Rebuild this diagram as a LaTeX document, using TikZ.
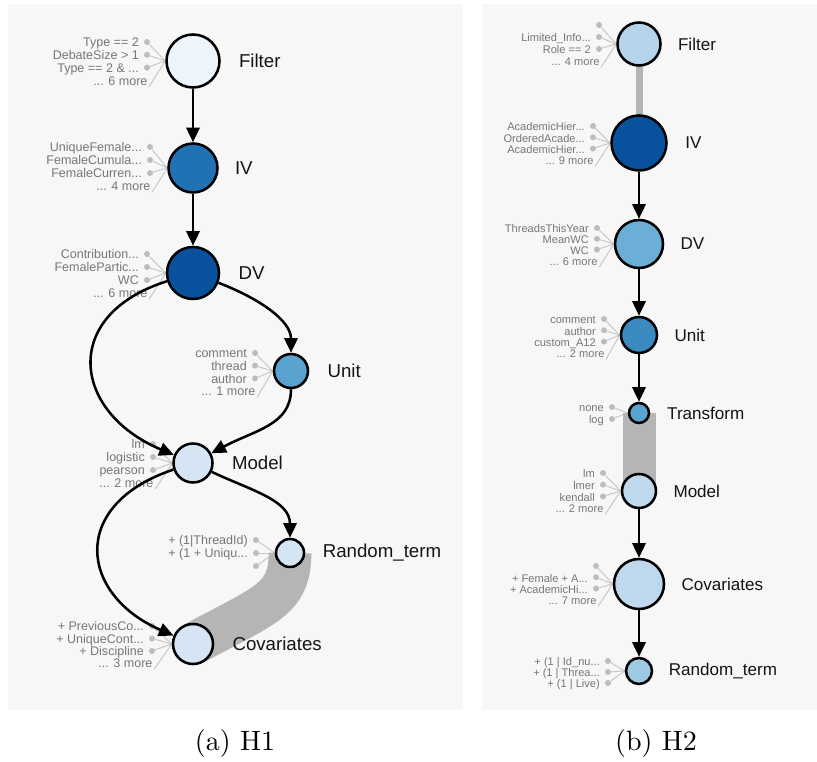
\documentclass[tikz,border=0pt]{standalone}
\usepackage{fontspec}
\newfontfamily\hv{Liberation Sans}
\newfontfamily\capfont[Extension=.otf]{lmroman10-regular}
\usetikzlibrary{arrows.meta,calc}
\pgfdeclarelayer{back}
\pgfdeclarelayer{bg}
\pgfsetlayers{back,bg,main}
\definecolor{panel}{HTML}{F7F7F7}
\definecolor{smgray}{HTML}{777777}
\definecolor{dotgray}{HTML}{BDBDBD}
\definecolor{linegray}{HTML}{C8C8C8}
\definecolor{bandgray}{HTML}{B5B5B5}
\definecolor{lFilter}{HTML}{EDF4FC}
\definecolor{lIV}{HTML}{2171B5}
\definecolor{lDV}{HTML}{08519C}
\definecolor{lUnit}{HTML}{5AA2CF}
\definecolor{lLight}{HTML}{D5E5F4}
\definecolor{rFilter}{HTML}{B5D4E9}
\definecolor{rIV}{HTML}{08519C}
\definecolor{rDV}{HTML}{6BAED6}
\definecolor{rUnit}{HTML}{3B8BC2}
\definecolor{rTr}{HTML}{5BA3D0}
\definecolor{rModel}{HTML}{C1D9ED}
\definecolor{rCov}{HTML}{BFD8ED}
\definecolor{rRT}{HTML}{9ECAE1}
\newcommand\ddd{...}
\tikzset{
  vn/.style={circle, draw=black, line width=1.9pt, inner sep=0pt},
  mlabL/.style={font=\hv\fontsize{14}{16}\selectfont, anchor=west, inner sep=1pt, text=black!92},
  mlabR/.style={font=\hv\fontsize{12.8}{15}\selectfont, anchor=west, inner sep=1pt, text=black!92},
  smL/.style={font=\hv\fontsize{9.4}{11}\selectfont, text=smgray, inner sep=1pt, anchor=east, text height=0.72em, text depth=0pt},
  smR/.style={font=\hv\fontsize{8.3}{10}\selectfont, text=smgray, inner sep=1pt, anchor=east, text height=0.72em, text depth=0pt},
  fdot/.style={circle, fill=dotgray, inner sep=0pt, minimum size=4.5pt},
  fline/.style={draw=linegray, line width=0.75pt},
  arr/.style={draw=black, line width=1.9pt, -{Triangle[length=11pt,width=10pt]}},
  band/.style={draw=bandgray, line cap=butt},
  captxt/.style={font=\capfont\fontsize{21}{25}\selectfont, inner sep=0pt},
}
% #1 parent, #2 dot x, #3 first y, #4 step, #5 items, #6 style
\newcommand\fan[6]{%
  \foreach \t [count=\i] in {#5} {
    \pgfmathsetmacro\yy{#3+(\i-1)*(#4)}
    \node[fdot] (#1d\i) at (#2,\yy) {};
    \node[#6] (#1t\i) at ([xshift=-2.5pt]#1d\i.west) {\t};
    \begin{pgfonlayer}{bg}
      \draw[fline] (#1.west) -- (#1d\i);
    \end{pgfonlayer}
  }%
}
% #1 parent, #2 x, #3 y, #4 text, #5 style
\newcommand\fanmore[5]{%
  \node[#5] (#1m) at (#2,#3) {#4};
  \begin{pgfonlayer}{bg}
    \draw[fline] (#1.west) -- (#1m.south east);
  \end{pgfonlayer}
}
\begin{document}
\begin{tikzpicture}[x=0.75pt,y=-0.75pt]
\useasboundingbox (0,0) rectangle (817,762);
\begin{pgfonlayer}{back}
  \fill[panel] (8,4) rectangle (463,710);
  \fill[panel] (482,4) rectangle (817,710);
\end{pgfonlayer}

% ---------- left panel ----------
\node[vn, fill=lFilter, minimum size=39.75pt] (LFilter) at (193,61) {};
\node[vn, fill=lIV, minimum size=36.75pt] (LIV) at (193,168) {};
\node[vn, fill=lDV, minimum size=39pt] (LDV) at (193,273) {};
\node[vn, fill=lUnit, minimum size=25.5pt] (LUnit) at (291,371) {};
\node[vn, fill=lLight, minimum size=29.25pt] (LModel) at (193,463) {};
\node[vn, fill=lLight, minimum size=21pt] (LRT) at (290,553) {};
\node[vn, fill=lLight, minimum size=30pt] (LCov) at (193,644) {};

\node[mlabL] (LFilterL) at ([xshift=12.5pt]LFilter.east) {Filter};
\node[mlabL] (LIVL) at ([xshift=11pt]LIV.east) {IV};
\node[mlabL] (LDVL) at ([xshift=12.5pt]LDV.east) {DV};
\node[mlabL] (LUnitL) at ([xshift=12.5pt]LUnit.east) {Unit};
\node[mlabL] (LModelL) at ([xshift=12.5pt]LModel.east) {Model};
\node[mlabL] (LRTL) at ([xshift=12pt]LRT.east) {Random\_term};
\node[mlabL] (LCovL) at ([xshift=12.5pt]LCov.east) {Covariates};

\fan{LFilter}{147}{42}{12.8}{{Type == 2},{DebateSize > 1},{Type == 2 \& \ddd}}{smL}
\fanmore{LFilter}{149}{80.4}{\ddd{} 6 more}{smL}
\fan{LIV}{150}{147}{13}{{UniqueFemale\ddd},{FemaleCumula\ddd},{FemaleCurren\ddd}}{smL}
\fanmore{LIV}{152}{186}{\ddd{} 4 more}{smL}
\fan{LDV}{147}{254}{13}{{Contribution\ddd},{FemalePartic\ddd},{WC}}{smL}
\fanmore{LDV}{149}{293}{\ddd{} 6 more}{smL}
\fan{LUnit}{255}{353}{12.7}{{comment},{thread},{author}}{smL}
\fanmore{LUnit}{257}{391}{\ddd{} 1 more}{smL}
\fan{LModel}{153}{444}{13}{{lm},{logistic},{pearson}}{smL}
\fanmore{LModel}{155}{483}{\ddd{} 2 more}{smL}
\fan{LRT}{256}{540}{13}{{+ (1|ThreadId)},{+ (1 + Uniqu\ddd},{}}{smL}
\fan{LCov}{152}{626}{12.5}{{+ PreviousCo\ddd},{+ UniqueCont\ddd},{+ Discipline}}{smL}
\fanmore{LCov}{154}{663}{\ddd{} 3 more}{smL}

\begin{pgfonlayer}{bg}
  \draw[band, line width=32pt] (LRT.center) .. controls (290,600) and (265,605) .. (LCov.center);
\end{pgfonlayer}

\draw[arr] (LFilter) -- (LIV);
\draw[arr] (LIV) -- (LDV);
\draw[arr] (LDV) .. controls (60,315) and (72,412) .. (LModel);
\draw[arr] (LDV) .. controls (258,298) and (291,320) .. (LUnit);
\draw[arr] (LUnit) .. controls (291,425) and (255,430) .. (LModel);
\draw[arr] (LModel) .. controls (250,490) and (290,500) .. (LRT);
\draw[arr] (LModel) .. controls (68,505) and (80,595) .. (LCov);

% ---------- right panel ----------
\node[vn, fill=rFilter, minimum size=32.25pt] (RFilter) at (639,44) {};
\node[vn, fill=rIV, minimum size=41.25pt] (RIV) at (639,143) {};
\node[vn, fill=rDV, minimum size=36pt] (RDV) at (639,244) {};
\node[vn, fill=rUnit, minimum size=27pt] (RUnit) at (639,335) {};
\node[vn, fill=rTr, minimum size=15pt] (RTr) at (639,413) {};
\node[vn, fill=rModel, minimum size=25.5pt] (RModel) at (639,491) {};
\node[vn, fill=rCov, minimum size=37.5pt] (RCov) at (639,584) {};
\node[vn, fill=rRT, minimum size=19.5pt] (RRT) at (639,671) {};

\node[mlabR] (RFilterL) at ([xshift=11pt]RFilter.east) {Filter};
\node[mlabR] (RIVL) at ([xshift=12pt]RIV.east) {IV};
\node[mlabR] (RDVL) at ([xshift=11pt]RDV.east) {DV};
\node[mlabR] (RUnitL) at ([xshift=11pt]RUnit.east) {Unit};
\node[mlabR] (RTrL) at ([xshift=11.5pt]RTr.east) {Transform};
\node[mlabR] (RModelL) at ([xshift=11pt]RModel.east) {Model};
\node[mlabR] (RCovL) at ([xshift=11pt]RCov.east) {Covariates};
\node[mlabR] (RRTL) at ([xshift=10.5pt]RRT.east) {Random\_term};

\fan{RFilter}{599}{25}{12}{{},{Limited\_Info\ddd},{Role == 2}}{smR}
\fanmore{RFilter}{601}{61}{\ddd{} 4 more}{smR}
\fan{RIV}{593}{126}{11.3}{{AcademicHier\ddd},{OrderedAcade\ddd},{AcademicHier\ddd}}{smR}
\fanmore{RIV}{595}{160}{\ddd{} 9 more}{smR}
\fan{RDV}{597}{228}{10.8}{{ThreadsThisYear},{MeanWC},{WC}}{smR}
\fanmore{RDV}{599}{261}{\ddd{} 6 more}{smR}
\fan{RUnit}{604}{319}{11.3}{{comment},{author},{custom\_A12}}{smR}
\fanmore{RUnit}{606}{353}{\ddd{} 2 more}{smR}
\fan{RTr}{612}{407}{12}{{none},{log}}{smR}
\fan{RModel}{603}{473}{11.7}{{lm},{lmer},{kendall}}{smR}
\fanmore{RModel}{605}{508}{\ddd{} 2 more}{smR}
\fan{RCov}{596}{566}{11.3}{{},{+ Female + A\ddd},{+ AcademicHi\ddd}}{smR}
\fanmore{RCov}{598}{600}{\ddd{} 7 more}{smR}
\fan{RRT}{608}{661}{11}{{+ (1 | Id\_nu\ddd},{+ (1 | Threa\ddd},{+ (1 | Live)}}{smR}

\begin{pgfonlayer}{bg}
  \draw[band, line width=5.25pt] (RFilter.center) -- (RIV.center);
  \draw[band, line width=24.75pt] (RTr.center) -- (RModel.center);
\end{pgfonlayer}

\draw[arr] (RIV) -- (RDV);
\draw[arr] (RDV) -- (RUnit);
\draw[arr] (RUnit) -- (RTr);
\draw[arr] (RModel) -- (RCov);
\draw[arr] (RCov) -- (RRT);

% ---------- captions ----------
\node[captxt] (capA) at (235,743) {(a) H1};
\node[captxt] (capB) at (656,743) {(b) H2};
\end{tikzpicture}
\end{document}
